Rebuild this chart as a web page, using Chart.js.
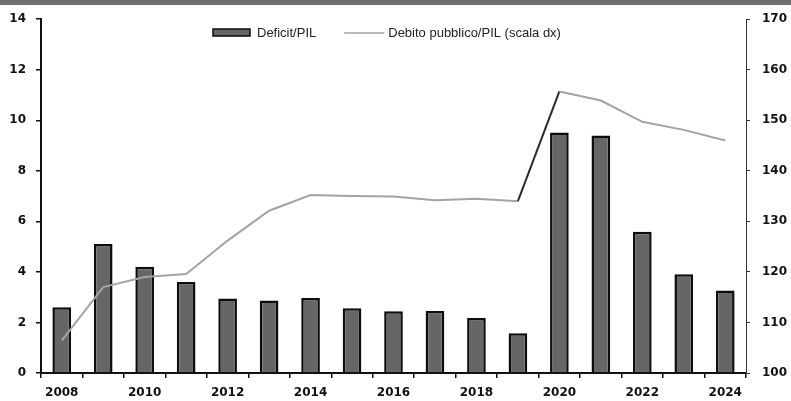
<!DOCTYPE html>
<html>
<head>
<meta charset="utf-8">
<script src="https://cdn.jsdelivr.net/npm/chart.js@4.4.1/dist/chart.umd.min.js"></script>
<style>
  html, body { margin: 0; padding: 0; background: #fff; }
  #wrap { width: 791px; height: 401px; }
</style>
</head>
<body>
<div id="wrap"><canvas id="chart" width="791" height="401"></canvas></div>
<script>
// Italia: deficit e debito pubblico in % del PIL
var years = ['2008', '2009', '2010', '2011', '2012', '2013', '2014', '2015', '2016',
             '2017', '2018', '2019', '2020', '2021', '2022', '2023', '2024'];
var deficitPil = [2.6, 5.1, 4.2, 3.6, 2.95, 2.87, 2.97, 2.56, 2.44,
                  2.45, 2.18, 1.57, 9.52, 9.4, 5.59, 3.91, 3.26];
var debitoPil = [106.4, 117.0, 119.0, 119.6, 126.2, 132.1, 135.2, 135.0, 134.9,
                 134.2, 134.5, 134.0, 155.7, 153.9, 149.7, 148.1, 146.0];
var deficitLabel = 'Deficit/PIL';
var debitoLabel = 'Debito pubblico/PIL (scala dx)';

var tickFont = { family: '"DejaVu Sans", sans-serif', size: 12, weight: 'bold' };
var ink = '#111';

// white page + strip left over from the header bar
var pageBackground = {
    id: 'pageBackground',
    beforeDraw: function(chart) {
        var ctx = chart.ctx;
        ctx.save();
        ctx.fillStyle = '#fff';
        ctx.fillRect(0, 0, chart.width, chart.height);
        ctx.fillStyle = '#6f6f6f';
        ctx.fillRect(0, 0, chart.width, 5);
        ctx.restore();
    }
};

// legend drawn inside the plot, along the top
var plotLegend = {
    id: 'plotLegend',
    afterDraw: function(chart) {
        var ctx = chart.ctx;
        var x = 213, y = 33;
        ctx.save();
        ctx.font = '13px "Liberation Sans", sans-serif';
        ctx.textBaseline = 'middle';
        chart.data.datasets.forEach(function(ds) {
            if (ds.type === 'bar') {
                ctx.fillStyle = ds.backgroundColor;
                ctx.fillRect(x, y - 4, 37, 7);
                ctx.strokeStyle = ds.borderColor;
                ctx.lineWidth = 1.5;
                ctx.strokeRect(x, y - 4, 37, 7);
            } else {
                ctx.strokeStyle = ds.borderColor;
                ctx.lineWidth = 1.5;
                ctx.beginPath();
                ctx.moveTo(x, y);
                ctx.lineTo(x + 40, y);
                ctx.stroke();
            }
            ctx.fillStyle = '#222';
            ctx.fillText(ds.label, x + 44, y);
            x += 44 + ctx.measureText(ds.label).width + 28;
        });
        ctx.restore();
    }
};

var chart = new Chart(document.getElementById('chart'), {
    data: {
        labels: years,
        datasets: [{
            type: 'bar',
            label: deficitLabel,
            data: deficitPil,
            yAxisID: 'y',
            backgroundColor: '#666666',
            borderColor: '#0d0d0d',
            borderWidth: 2.5,
            categoryPercentage: 1,
            barPercentage: 0.45,
            order: 2
        }, {
            type: 'line',
            label: debitoLabel,
            data: debitoPil,
            yAxisID: 'y1',
            borderColor: '#a3a3a3',
            borderWidth: 2,
            pointRadius: 0,
            tension: 0,
            segment: {
                // steep jumps come out darker
                borderColor: function(c) {
                    var dx = c.p1.x - c.p0.x, dy = Math.abs(c.p1.y - c.p0.y);
                    return dy / dx > 2 ? '#2a2a2a' : undefined;
                }
            },
            order: 1
        }]
    },
    plugins: [pageBackground, plotLegend],
    options: {
        responsive: false,
        animation: false,
        devicePixelRatio: 1,
        layout: { padding: { top: 19, left: 0, right: 0, bottom: 0 } },
        plugins: {
            legend: { display: false },
            tooltip: { enabled: false }
        },
        scales: {
            x: {
                offset: true,
                grid: { offset: true, drawOnChartArea: false, tickLength: 5, color: ink, lineWidth: 1.5 },
                border: { display: true, color: ink, width: 2 },
                ticks: {
                    autoSkip: false, maxRotation: 0, padding: 8, color: ink, font: tickFont,
                    callback: function(v, i) { return i % 2 === 0 ? years[i] : ''; }
                },
                afterFit: function(s) { s.height = 28; }
            },
            y: {
                position: 'left',
                min: 0, max: 14,
                grid: { drawOnChartArea: false, tickLength: 5, color: ink, lineWidth: 1.5 },
                border: { color: ink, width: 2 },
                ticks: { stepSize: 2, padding: 10, color: ink, font: tickFont },
                afterFit: function(s) { s.width = 41; }
            },
            y1: {
                position: 'right',
                min: 100, max: 170,
                grid: { drawOnChartArea: false, tickLength: 4, color: '#333' },
                border: { color: '#333', width: 1 },
                ticks: { stepSize: 10, padding: 12, color: ink, font: tickFont },
                afterFit: function(s) { s.width = 45; }
            }
        }
    }
});
</script>
</body>
</html>
